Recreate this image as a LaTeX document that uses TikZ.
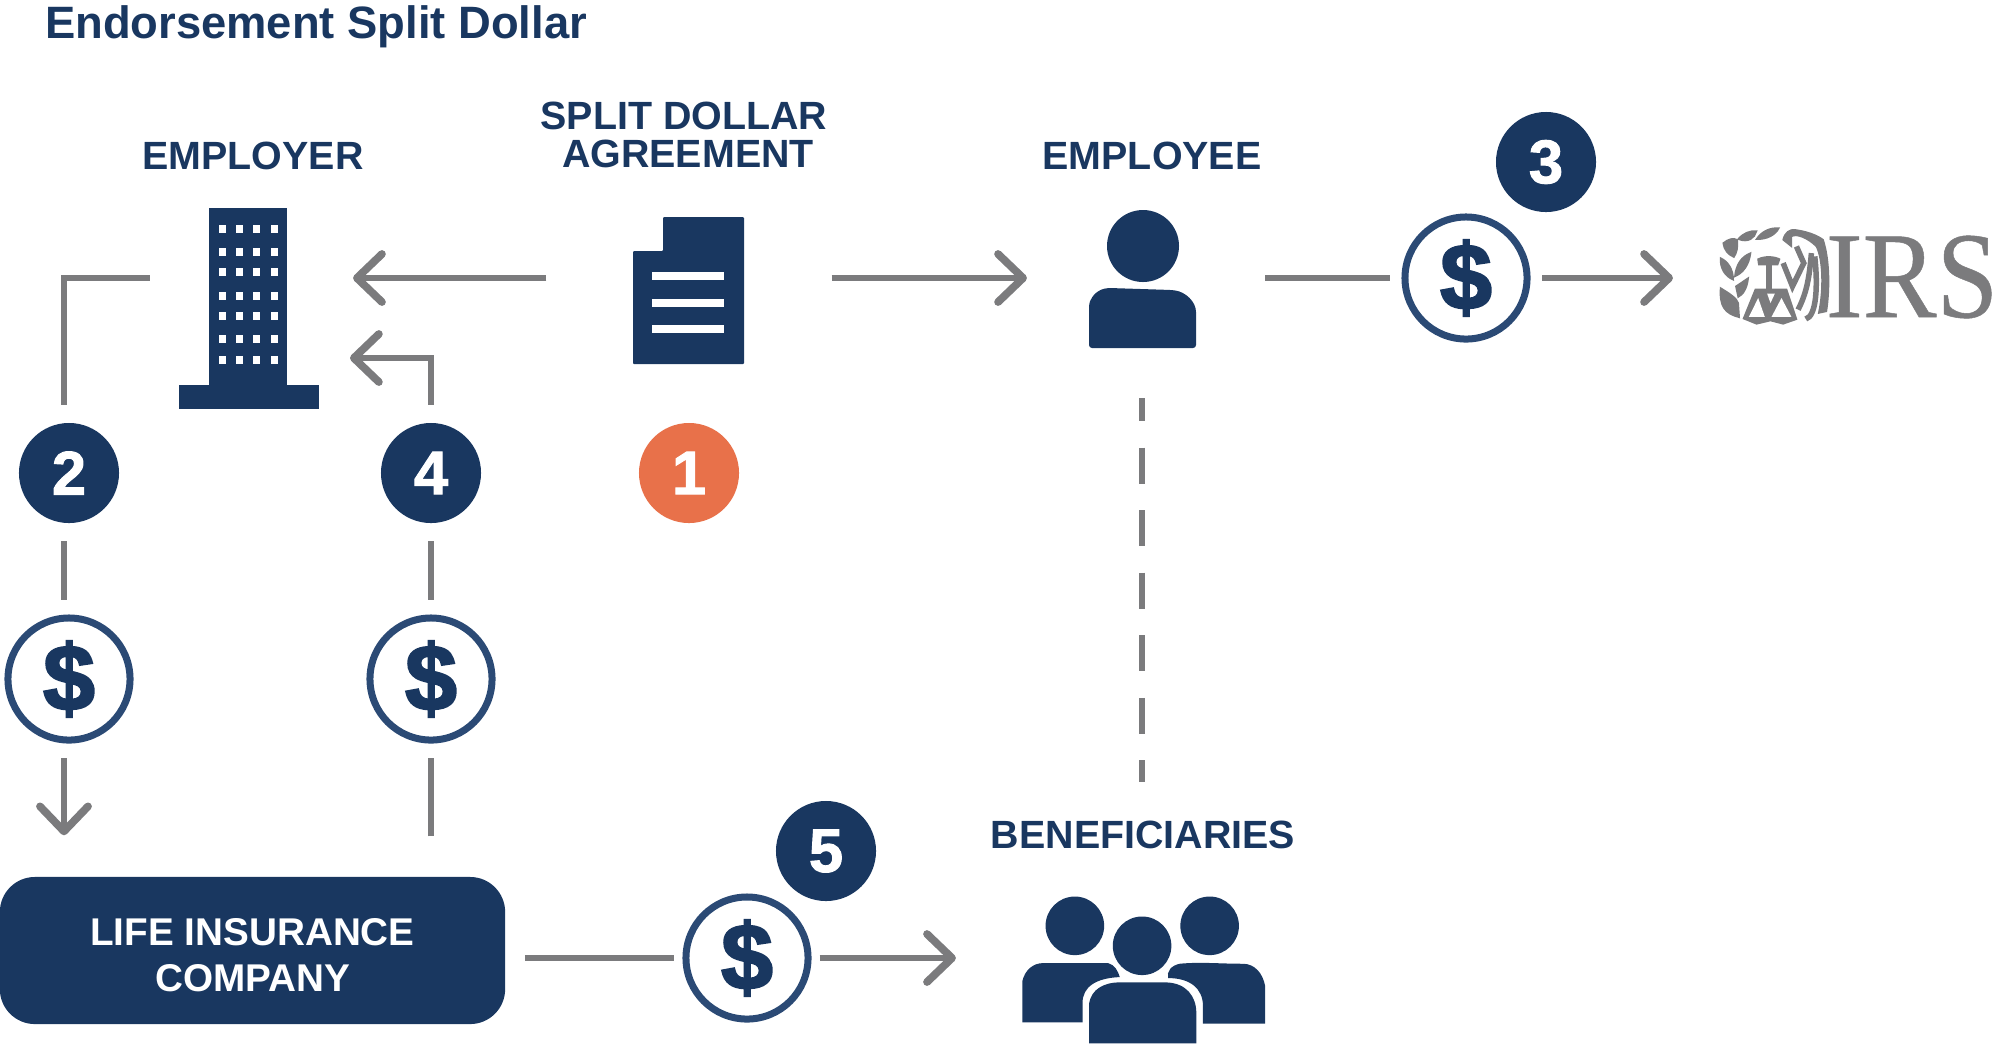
\documentclass[tikz,border=0pt]{standalone}
\usepackage{fontspec}
\setmainfont{Liberation Sans}
\newfontfamily\heavyfont[FakeBold=1.6]{Liberation Sans Bold}
\newfontfamily\coinfont[FakeBold=2.4]{Liberation Sans Bold}
\newfontfamily\irsfont[FakeBold=0.4]{Liberation Serif}
\usetikzlibrary{arrows.meta}
\definecolor{navy}{HTML}{193760}
\definecolor{ringblue}{HTML}{2B4A75}
\definecolor{linegray}{HTML}{7B7B7D}
\definecolor{badgeorange}{HTML}{E8714A}
\tikzset{
    link/.style={draw=linegray, line width=0.055cm},
    flow/.style={link, -{Straight Barb[length=2.5mm,width=4.8mm,line width=2.2pt,round]}},
    badge/.style={circle, fill=navy, text=white, minimum size=1cm, inner sep=0pt, outer sep=0.18cm, font=\heavyfont\fontsize{17.5}{17.5}\selectfont},
    coin/.style={circle, draw=ringblue, fill=white, line width=0.07cm, minimum size=1.22cm, inner sep=0pt, outer sep=0.18cm, text=navy, font=\coinfont\fontsize{26.5}{26.5}\selectfont},
    caption/.style={text=navy, align=center, font=\bfseries\fontsize{11.2}{10.6}\selectfont},
    port/.style={minimum width=#1, inner sep=0pt, outer sep=0pt},
    sealpart/.style={fill=linegray, draw=linegray, line width=0.015cm},
}
\begin{document}
\begin{tikzpicture}[x=0.01cm,y=-0.01cm]
        \useasboundingbox (0,0) rectangle (2000,1044);

        \node[text=navy, font=\bfseries\fontsize{12.9}{12.9}\selectfont] (title) at (316,27) {Endorsement Split Dollar};
        \node[caption] (employerText) at (253,156) {EMPLOYER};
        \node[caption] (agreementText) at (684,135) {SPLIT DOLLAR\\\hspace*{0.08cm}AGREEMENT};
        \node[caption] (employeeText) at (1152,156) {EMPLOYEE};
        \node[caption] (beneficiariesText) at (1143,835) {BENEFICIARIES};

        \node[port=2.03cm, minimum height=1cm] (building) at (251.5,278) {};
        \node[port=2.85cm, minimum height=1cm] (agreement) at (689,278) {};
        \node[port=2.46cm, minimum height=2.4cm] (employee) at (1142,278) {};
        \node[port=1.96cm, minimum height=1cm] (irsSeal) at (1771,278) {};
        \node[port=3.72cm, minimum height=3.52cm] (beneficiaries) at (1142,958) {};
        \coordinate (buildingIn) at (350,358);

        \fill[navy] (209,208) rectangle (287,390);
        \fill[navy] (179,385) rectangle (319,409);
        \foreach \wx in {222,239,256,274}
            \foreach \wy in {229,252,272,296,316,339,360}
                \fill[white] (\wx-3.5,\wy-4) rectangle (\wx+3.5,\wy+4);

        \fill[navy, rounded corners=0.01cm] (633,364) -- (633,251) -- (663,251) -- (663,217) -- (744,217) -- (744,364) -- cycle;
        \foreach \ly in {276,303,329}
            \fill[white] (652,\ly-4) rectangle (724,\ly+4);

        \fill[navy] (1143,246) circle (36);
        \fill[navy, rounded corners=0.03cm] (1089,348) -- (1089,304) .. controls (1092,296) and (1098,289) .. (1110,288) -- (1172,290) .. controls (1186,292) and (1196,302) .. (1196,315) -- (1196,348) -- cycle;

        \begin{scope}[shift={(980,800)},x=0.00333cm,y=-0.00333cm]
            \fill[navy] (285,378) circle (88);
            \fill[navy] (690,378) circle (88);
            \fill[navy] (487,438) circle (88);
            \fill[navy] (127,668) -- (127,545) .. controls (135,510) and (160,490) .. (190,490) -- (385,490) .. controls (405,495) and (415,515) .. (420,532) .. controls (350,535) and (308,560) .. (308,610) -- (308,668) -- cycle;
            \fill[navy] (857,672) -- (857,560) .. controls (850,520) and (825,492) .. (790,492) .. controls (720,492) and (660,486) .. (600,492) .. controls (575,497) and (560,515) .. (565,535) .. controls (630,535) and (670,565) .. (670,620) -- (670,672) -- cycle;
            \fill[navy] (328,731) -- (328,610) .. controls (335,570) and (370,548) .. (420,548) -- (560,548) .. controls (620,550) and (650,590) .. (650,640) -- (650,731) -- cycle;
        \end{scope}

        \node[draw=none, fill=navy, rounded corners=0.35cm, minimum width=5.05cm, minimum height=1.47cm, inner sep=0pt, text=white, align=center, font=\bfseries\fontsize{11}{13}\selectfont] (company) at (252.5,950.5) {\\[-0.1cm]LIFE INSURANCE\\COMPANY};

        \node[badge, fill=badgeorange] (badgeOne) at (689,473) {1};
        \node[badge] (badgeTwo) at (69,473) {2};
        \node[badge] (badgeThree) at (1546,162) {3};
        \node[badge] (badgeFour) at (431,473) {4};
        \node[badge] (badgeFive) at (826,851) {5};

        \node[coin] (coinTwo) at (69,679) {\$};
        \node[coin] (coinFour) at (431,679) {\$};
        \node[coin, outer sep=0.15cm] (coinThree) at (1466,278) {\$};
        \node[coin, outer sep=0.115cm] (coinFive) at (747,958) {\$};

        \draw[flow] (agreement.west) -- (building.east);
        \draw[flow, shorten >=-0.08cm] (agreement.east) -- (employee.west);
        \draw[link] (employee.east) -- (coinThree.west);
        \draw[flow] (coinThree.east) -- (irsSeal.west);
        \draw[link] (building.west) -| ([xshift=-0.05cm]badgeTwo.north);
        \draw[link] ([xshift=-0.05cm]badgeTwo.south) -- ([xshift=-0.05cm]coinTwo.north);
        \draw[flow, shorten >=0.41cm] ([xshift=-0.05cm]coinTwo.south) -- ([xshift=-0.05cm]coinTwo.south |- company.north);
        \draw[link, shorten <=0.4cm] (coinFour.south |- company.north) -- (coinFour.south);
        \draw[link] (coinFour.north) -- (badgeFour.south);
        \draw[flow] (badgeFour.north) |- (buildingIn);
        \draw[link, shorten <=0.19cm] (company.east |- coinFive) -- (coinFive.west);
        \draw[flow] (coinFive.east) -- (beneficiaries.west);
        \draw[link, dash pattern=on 0.36cm off 0.265cm, dash phase=0.13cm] (employee.south) -- (beneficiaries.north);

        \node[text=linegray, xscale=0.9, inner sep=0pt, font=\irsfont\fontsize{35}{35}\selectfont] (irsWord) at (1912,277) {IRS};

        \begin{scope}[shift={(1650,90)},x=0.00333cm,y=-0.00333cm]
            \filldraw[sealpart] (212,595) .. controls (240,612) and (260,625) .. (265,640) -- (268,683) .. controls (225,672) and (208,650) .. cycle;
            \filldraw[sealpart] (258,590) -- (295,565) .. controls (292,595) and (280,615) .. (265,622) -- cycle;
            \filldraw[sealpart] (212,505) .. controls (235,515) and (250,540) .. (250,570) .. controls (225,560) and (210,535) .. cycle;
            \filldraw[sealpart] (255,560) .. controls (258,525) and (275,500) .. (302,490) .. controls (298,525) and (280,550) .. cycle;
            \filldraw[sealpart] (220,460) .. controls (235,448) and (250,443) .. (262,450) .. controls (265,475) and (260,490) .. (252,502) .. controls (235,495) and (222,480) .. cycle;
            \filldraw[sealpart] (265,448) .. controls (280,430) and (300,422) .. (320,424) .. controls (315,445) and (295,460) .. cycle;
            \filldraw[sealpart] (320,448) .. controls (335,425) and (360,413) .. (387,415) .. controls (378,435) and (350,450) .. cycle;
            \fill[linegray] (315,597) -- (412,597) -- (443,690) -- (400,705) -- (362,695) -- (320,705) -- (278,688) -- cycle;
            \fill[white] (325,625) -- (345,682) -- (297,682) -- cycle;
            \fill[white] (395,625) -- (425,682) -- (365,682) -- cycle;
            \fill[white] (352,612) -- (375,612) -- (362,640) -- cycle;
            \fill[linegray] (347,520) rectangle (368,600);
            \fill[linegray] (322,507) .. controls (345,495) and (375,498) .. (392,507) -- (385,527) -- (325,527) -- cycle;
            \filldraw[sealpart] (400,450) .. controls (405,428) and (420,418) .. (435,420) .. controls (470,425) and (500,435) .. (520,450) .. controls (540,510) and (540,600) .. (530,665) -- (507,670) .. controls (522,600) and (520,510) .. (500,470) .. controls (475,445) and (440,430) .. (425,440) -- (425,470) -- cycle;
            \draw[linegray, line width=0.055cm] (400,520) -- (428,590) -- (462,520) -- (440,470);
            \draw[linegray, line width=0.055cm] (445,660) .. controls (470,610) and (478,570) .. (485,490);
            \draw[linegray, line width=0.055cm] (468,688) .. controls (500,680) and (505,590) .. (495,500);
        \end{scope}
    \end{tikzpicture}
\end{document}
